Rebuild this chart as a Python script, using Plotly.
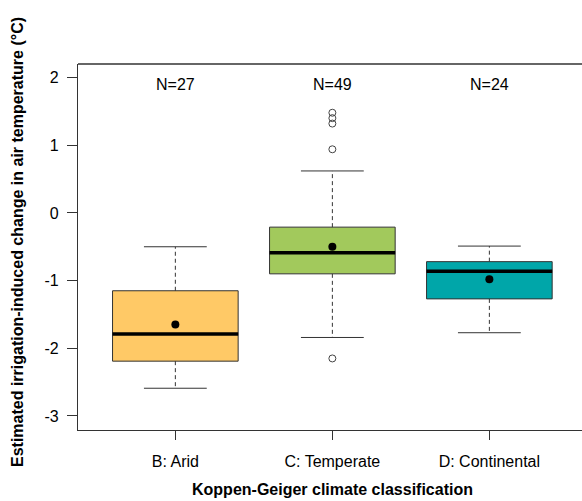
import plotly.graph_objects as go

# ---- data ----
categories = ["B: Arid", "C: Temperate", "D: Continental"]
n_labels = ["N=27", "N=49", "N=24"]
q1 = [-2.19, -0.90, -1.27]
median = [-1.79, -0.59, -0.86]
q3 = [-1.15, -0.21, -0.72]
whisker_low = [-2.59, -1.84, -1.77]
whisker_high = [-0.50, 0.62, -0.49]
means = [-1.65, -0.50, -0.98]
outlier_cat = [2, 2, 2, 2, 2]
outlier_val = [1.48, 1.40, 1.32, 0.94, -2.15]
fills = ["#FFC966", "#A2C95C", "#00A6A9"]
yticks = [-3, -2, -1, 0, 1, 2]

positions = [1, 2, 3]
box_w = 0.8
cap_w = 0.4
font = "Liberation Sans, Arial, sans-serif"
edge = "#333333"

fig = go.Figure()

for i, pos in enumerate(positions):
    # dashed whiskers
    fig.add_trace(go.Scatter(
        x=[pos, pos, None, pos, pos],
        y=[q3[i], whisker_high[i], None, q1[i], whisker_low[i]],
        mode="lines", line=dict(color=edge, width=1, dash="4px,3px"),
        showlegend=False, hoverinfo="skip"))
    # caps
    fig.add_trace(go.Scatter(
        x=[pos - cap_w / 2, pos + cap_w / 2, None, pos - cap_w / 2, pos + cap_w / 2],
        y=[whisker_high[i], whisker_high[i], None, whisker_low[i], whisker_low[i]],
        mode="lines", line=dict(color=edge, width=1),
        showlegend=False, hoverinfo="skip"))
    # box
    fig.add_trace(go.Box(
        x=[pos], q1=[q1[i]], median=[median[i]], q3=[q3[i]],
        lowerfence=[q1[i]], upperfence=[q3[i]],
        width=box_w, fillcolor=fills[i], line=dict(color=edge, width=1),
        boxpoints=False, showlegend=False, whiskerwidth=0))
    # thick median
    fig.add_trace(go.Scatter(
        x=[pos - box_w / 2, pos + box_w / 2], y=[median[i], median[i]],
        mode="lines", line=dict(color="black", width=3.5),
        showlegend=False, hoverinfo="skip"))

# means
fig.add_trace(go.Scatter(
    x=positions, y=means, mode="markers",
    marker=dict(color="black", size=8), showlegend=False))

# outliers
fig.add_trace(go.Scatter(
    x=outlier_cat, y=outlier_val, mode="markers",
    marker=dict(symbol="circle-open", color="#444444", size=7, line=dict(width=1)),
    showlegend=False))

annotations = []
for pos, lab in zip(positions, n_labels):
    annotations.append(dict(x=pos, xref="x", y=0.943, yref="paper", yanchor="middle",
                            text=lab, showarrow=False,
                            font=dict(size=16, color="black", family=font)))
annotations.append(dict(x=0, xref="paper", xshift=-61, xanchor="center",
                        y=0.5, yref="paper", yanchor="middle", yshift=5,
                        text="<b>Estimated irrigation-induced change in air temperature (°C)</b>",
                        textangle=-90, showarrow=False,
                        font=dict(size=16, color="black", family=font)))
annotations.append(dict(x=2.0, xref="x", xanchor="center",
                        y=0, yref="paper", yanchor="middle", yshift=-59,
                        text="<b>Koppen-Geiger climate classification</b>",
                        showarrow=False, font=dict(size=16, color="black", family=font)))

fig.update_layout(
    width=582, height=501,
    margin=dict(l=78, r=0, t=64, b=71),
    paper_bgcolor="white", plot_bgcolor="white",
    font=dict(family=font, size=16, color="black"),
    annotations=annotations,
    shapes=[dict(type="line", xref="paper", yref="paper", x0=0, x1=1, y0=1, y1=1,
                 line=dict(color=edge, width=1.3))],
    xaxis=dict(range=[0.38, 3.59], tickvals=positions, ticktext=categories,
               ticks="outside", ticklen=9, tickcolor=edge, showline=True, linecolor=edge,
               linewidth=1.3, showgrid=False, zeroline=False, ticklabelstandoff=8,
               tickfont=dict(size=16, color="black")),
    yaxis=dict(range=[-3.207, 2.2], tickvals=yticks, ticktext=[str(t) for t in yticks],
               ticks="outside", ticklen=10, tickcolor=edge, showline=True, linecolor=edge,
               linewidth=1.3, showgrid=False, zeroline=False, ticklabelstandoff=5,
               tickfont=dict(size=16, color="black")),
)

# remove the default 8px page margin so the figure sits at the window's top-left corner
fig.write_html("out.html",
               config={"displayModeBar": False},
               post_script="document.body.style.margin='0px';document.body.style.overflow='hidden';")
